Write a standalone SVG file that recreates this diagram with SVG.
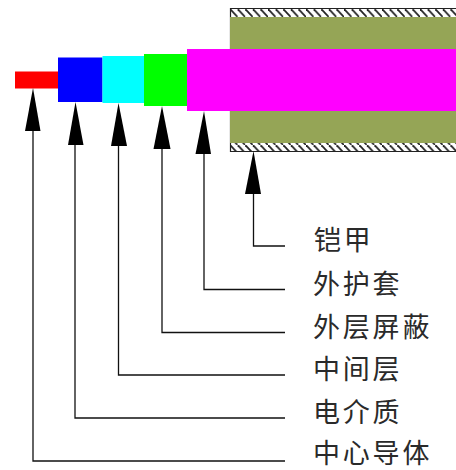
<svg xmlns="http://www.w3.org/2000/svg" width="456" height="470" viewBox="0 0 456 470">
<style>
.lead{fill:none;stroke:#111;stroke-width:1.3}
.tip{fill:#000}
.lab{font-family:"Noto Sans CJK SC","Liberation Sans",sans-serif;font-size:27px;fill:#2a2a2a;letter-spacing:2.800px}
</style>
<defs>
<pattern id="h" width="7.6" height="8" patternUnits="userSpaceOnUse" x="230" y="9">
<rect width="7.6" height="8" fill="#fff"/>
<path d="M0 0L7.6 8" stroke="#222" stroke-width="1.800"/>
</pattern>
</defs>
<rect width="456" height="470" fill="#fff"/>
<g id="armor">
<rect x="230" y="9" width="226" height="8" fill="url(#h)"/>
<rect x="230" y="143" width="226" height="8" fill="url(#h)"/>
<path d="M456 8.500H230.500V151.500H456" fill="none" stroke="#222" stroke-width="1.200"/>
<rect x="230" y="17" width="226" height="32" fill="#95a556"/>
<rect x="230" y="111" width="226" height="32" fill="#95a556"/>
</g>
<g id="core"><rect x="15" y="71.500" width="44" height="17" fill="#f00"/></g>
<g id="dielectric"><rect x="58" y="57.500" width="44.500" height="44.500" fill="#00f"/></g>
<g id="middle"><rect x="102.500" y="56" width="42.500" height="47" fill="#0ff"/></g>
<g id="shield"><rect x="144" y="54" width="44" height="52" fill="#0f0"/></g>
<g id="sheath"><rect x="187" y="49" width="269" height="62" fill="#f0f"/></g>
<g id="connectors">
<path class="lead" d="M33 130V461H285"/>
<path class="lead" d="M75 144V418H285"/>
<path class="lead" d="M118.500 145V375H285"/>
<path class="lead" d="M162 148V332.500H285"/>
<path class="lead" d="M204 153V289.500H285"/>
<path class="lead" d="M253.500 193V246H285"/>
<polygon class="tip" points="33,88 25,131 40.500,131"/>
<polygon class="tip" points="75.500,102 68,145 83.500,145"/>
<polygon class="tip" points="118.500,103 111,146 127,146"/>
<polygon class="tip" points="162,106 153.500,149 170.500,149"/>
<polygon class="tip" points="204,111 195.500,154 211,154"/>
<polygon class="tip" points="253.500,151 245,194 261,194"/>
</g>
<g id="labels">
<text class="lab" x="314" y="250">铠甲</text>
<text class="lab" x="313" y="294">外护套</text>
<text class="lab" x="313" y="337">外层屏蔽</text>
<text class="lab" x="313" y="379">中间层</text>
<text class="lab" x="313" y="422">电介质</text>
<text class="lab" x="313" y="463">中心导体</text>
</g>
</svg>
